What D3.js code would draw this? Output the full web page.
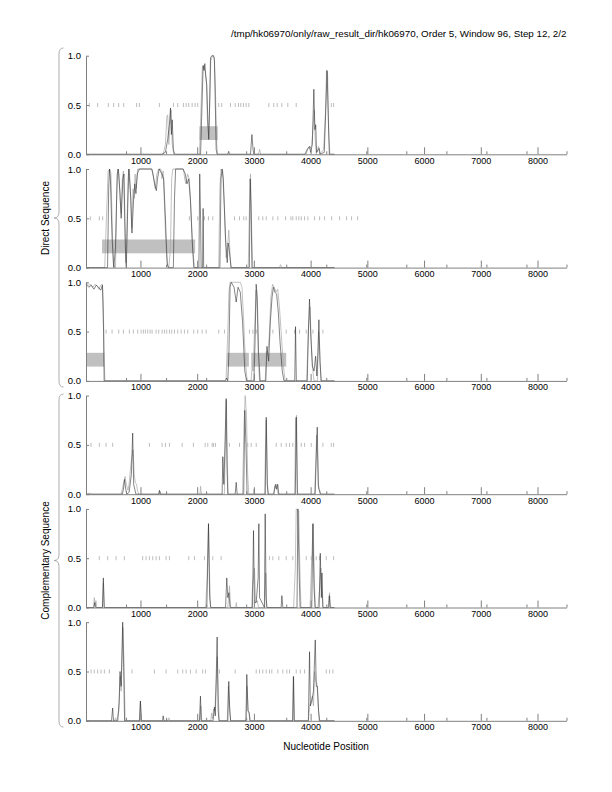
<!DOCTYPE html>
<html><head><meta charset="utf-8">
<script src="https://cdn.jsdelivr.net/npm/d3@7"></script>
<style>body{margin:0;background:#fff} text{font-family:"Liberation Sans",Arial,Helvetica,sans-serif}</style>
</head><body>
<script>
// ---------- DATA ----------
const titleText = "/tmp/hk06970/only/raw_result_dir/hk06970, Order 5, Window 96, Step 12, 2/2";
const xLabel = "Nucleotide Position";
const groupLabels = ["Direct Sequence", "Complementary Sequence"];
const xDomain = [40, 8511];
const xMajorTicks = [1000, 2000, 3000, 4000, 5000, 6000, 7000, 8000];
const xMinorTicks = [40, 746, 1452, 2158, 2864, 3570, 4276, 4981, 5687, 6393, 7099, 7805, 8511];
const yTickValues = [0, 0.5, 1];
const yTickLabels = ["0.0", "0.5", "1.0"];
const geneBand = [0.145, 0.285];

const panel1Black = [[40,0],[1380,0],[1440,0.02],[1480,0.15],[1510,0.3],[1530,0.47],[1545,0.2],[1560,0.35],[1580,0.05],[1600,0],[2060,0],[2090,0.6],[2105,0.9],[2120,0.85],[2135,0.92],[2150,0.8],[2170,0.7],[2190,0.3],[2205,0.15],[2220,0.5],[2235,0.98],[2260,1.0],[2290,1.0],[2305,0.95],[2320,0.5],[2335,0.05],[2350,0],[2540,0],[2555,0.03],[2570,0],[2940,0],[2965,0.2],[2985,0.05],[3000,0],[3900,0],[3940,0.05],[3980,0.08],[4000,0.02],[4030,0.1],[4057,0.66],[4075,0.25],[4090,0.3],[4105,0.02],[4150,0.06],[4170,0],[4240,0.02],[4270,0.5],[4290,0.85],[4310,0.4],[4330,0],[4420,0]];
const panel1Gray = [[40,0],[1400,0],[1440,0.1],[1465,0.38],[1480,0.4],[1500,0.1],[1520,0.3],[1540,0.45],[1560,0.1],[1590,0],[2040,0],[2070,0.5],[2090,0.88],[2110,0.9],[2140,0.85],[2160,0.75],[2180,0.35],[2200,0.2],[2215,0.4],[2240,0.95],[2270,1.0],[2300,0.98],[2320,0.7],[2345,0.1],[2360,0],[3080,0],[3100,0.05],[3120,0],[3920,0],[3960,0.07],[3990,0.06],[4020,0.1],[4045,0.3],[4065,0.45],[4080,0.15],[4100,0],[4140,0.08],[4160,0],[4230,0.05],[4260,0.4],[4280,0.85],[4300,0.8],[4320,0.2],[4340,0],[4420,0]];
const panel1Stops = [99,245,434,528,616,704,933,981,1334,1581,1657,1757,1805,1851,1911,1964,2010,2380,2433,2586,2670,2728,2769,2816,2864,2910,3263,3351,3411,3492,3598,3746,4364,4405];
const panel1Genes = [[2040,2363]];

const panel2Black = [[40,0],[420,0],[440,0.8],[455,1.0],[470,0.9],[500,0.3],[530,0],[560,0.2],[590,0.95],[610,1.0],[640,0.75],[660,0.5],[690,0.9],[710,0.95],[735,0.2],[750,0],[775,0.6],[795,1.0],[830,0.7],[850,0.35],[880,0.7],[900,0.85],[920,0.75],[945,0.95],[980,1.0],[1200,1.0],[1220,0.95],[1250,0.85],[1280,0.78],[1300,0.9],[1330,1.0],[1380,0.95],[1410,0.9],[1440,0.5],[1470,0.05],[1490,0],[1580,0],[1600,0.7],[1620,1.0],[1750,1.0],[1790,0.95],[1820,0.85],[1850,0.9],[1880,0.7],[1910,0.3],[1940,0],[2030,0],[2045,0.95],[2060,0.5],[2070,0],[2095,0],[2105,0.6],[2115,0],[2400,0],[2420,0.9],[2440,1.0],[2460,0.9],[2500,0.3],[2530,0.05],[2545,0.25],[2560,0.2],[2580,0.1],[2600,0],[2920,0],[2935,0.9],[2950,0.6],[2965,0],[4420,0]];
const panel2Gray = [[40,0],[370,0],[400,0.5],[430,0.98],[460,1.0],[480,0.95],[500,0.5],[520,0.05],[540,0],[560,0],[580,0.7],[600,1.0],[620,0.95],[640,0.7],[660,0.55],[680,0.9],[700,0.98],[720,0.5],[740,0.05],[760,0.3],[780,0.9],[800,1.0],[820,0.85],[845,0.4],[870,0.8],[890,0.7],[905,0.95],[925,0.8],[950,1.0],[1200,1.0],[1230,0.92],[1260,0.8],[1290,0.95],[1320,1.0],[1360,1.0],[1380,0.9],[1400,0.98],[1420,0.7],[1450,0.2],[1480,0.02],[1500,0],[1530,0.2],[1550,0.9],[1570,1.0],[1760,1.0],[1780,0.9],[1800,0.85],[1830,0.95],[1860,0.9],[1890,0.6],[1920,0.2],[1950,0.02],[1970,0],[2380,0],[2400,0.8],[2420,1.0],[2450,0.98],[2480,0.6],[2510,0.1],[2530,0.15],[2557,0.38],[2575,0.2],[2590,0],[2900,0],[2925,0.7],[2940,0.95],[2960,0.4],[2980,0],[3450,0],[3470,0.03],[3490,0],[4420,0]];
const panel2Stops = [116,275,334,1863,2010,2128,2199,2275,2658,2746,2822,2864,3086,3157,3217,3334,3422,3558,3652,3686,3746,3792,3835,3893,3951,4069,4158,4246,4370,4511,4634,4722,4828];
const panel2Genes = [[323,1964]];

const panel3Black = [[40,0.98],[90,0.95],[130,0.97],[180,0.93],[220,0.97],[260,0.95],[300,0.92],[330,0.97],[350,0.5],[360,0],[2500,0],[2520,0.03],[2540,0],[2560,0.3],[2580,0.95],[2600,1.0],[2650,0.95],[2688,0.8],[2720,0.95],[2760,0.9],[2800,0.6],[2840,0.1],[2870,0],[3000,0],[3020,0.4],[3040,0.98],[3060,0.85],[3080,0.3],[3110,0],[3210,0],[3230,0.35],[3260,0.2],[3290,0.6],[3320,0.85],[3345,0.95],[3370,0.9],[3400,0.88],[3430,0.7],[3460,0.4],[3500,0.1],[3530,0],[3720,0],[3734,0.55],[3748,0],[3940,0],[3965,0.6],[3981,0.83],[4000,0.5],[4030,0.15],[4060,0.1],[4088,0.25],[4110,0.05],[4130,0.3],[4146,0.62],[4165,0.2],[4188,0],[4420,0]];
const panel3Gray = [[40,1.0],[80,0.97],[120,0.98],[160,0.95],[200,0.98],[240,0.96],[270,0.93],[300,0.97],[330,0.98],[345,0.8],[360,0.2],[375,0],[2480,0],[2510,0.02],[2540,0.5],[2560,0.9],[2580,1.0],[2760,1.0],[2790,0.95],[2820,0.6],[2850,0.2],[2880,0],[2950,0],[2970,0.15],[2985,0.1],[3010,0.5],[3040,0.92],[3060,0.7],[3080,0.2],[3100,0],[3200,0],[3220,0.3],[3240,0.25],[3270,0.45],[3300,0.85],[3330,0.98],[3360,0.95],[3390,0.9],[3420,0.93],[3450,0.75],[3480,0.5],[3520,0.15],[3550,0],[3930,0],[3960,0.5],[3990,0.75],[4010,0.4],[4040,0.1],[4060,0],[4120,0],[4140,0.5],[4160,0.3],[4180,0],[4420,0]];
const panel3Stops = [394,500,616,699,805,875,951,1011,1052,1087,1128,1170,1205,1276,1322,1382,1422,1463,1511,1551,1599,1657,1717,1775,1834,1939,2010,2088,2158,2381,2481,2922,2981,3041,3334,3570,3716,3805,3923,4040,4216];
const panel3Genes = [[40,364],[2529,2911],[2953,3570]];

const panel4Black = [[40,0],[680,0],[700,0.05],[720,0.15],[740,0.05],[760,0],[800,0.02],[840,0.2],[863,0.62],[880,0.1],[900,0.05],[920,0],[1320,0],[1335,0.04],[1350,0],[2440,0],[2452,0.38],[2470,0.1],[2490,0.5],[2511,0.97],[2525,0.3],[2540,0],[2670,0],[2688,0.12],[2705,0],[2820,0],[2840,0.85],[2860,0.5],[2880,0],[3200,0],[3217,0.78],[3235,0.1],[3250,0],[3350,0],[3380,0.1],[3400,0.05],[3420,0.1],[3440,0],[3730,0],[3747,0.78],[3765,0],[4080,0],[4100,0.4],[4117,0.68],[4135,0.1],[4150,0.05],[4170,0],[4420,0]];
const panel4Gray = [[40,0],[100,0.01],[140,0],[660,0],[690,0.08],[729,0.18],[750,0.1],[780,0.04],[800,0.1],[830,0.3],[870,0.45],[890,0.2],[910,0.12],[930,0.1],[950,0.03],[970,0],[1330,0],[1345,0.03],[1360,0],[2050,0],[2060,0.08],[2075,0],[2480,0],[2500,0.6],[2515,0.95],[2530,0.4],[2545,0],[2800,0],[2825,0.7],[2846,1.0],[2870,0.8],[2890,0.2],[2910,0],[2990,0],[3000,0.05],[3015,0],[3190,0],[3205,0.5],[3220,0.75],[3240,0.1],[3255,0],[3350,0],[3365,0.08],[3385,0.06],[3405,0.1],[3425,0],[3720,0],[3735,0.75],[3752,0.8],[3770,0],[4070,0],[4090,0.3],[4105,0.6],[4125,0.35],[4140,0.05],[4160,0.04],[4180,0],[4420,0]];
const panel4Stops = [129,275,394,510,1158,1382,1440,1511,1735,1934,2141,2187,2264,2287,2322,2569,2746,2892,2952,3041,3393,3482,3570,3628,3686,3835,3893,4011,4216,4364,4405];
const panel4Genes = [];

const panel5Black = [[40,0],[180,0],[195,0.05],[210,0],[330,0],[346,0.3],[362,0],[2170,0],[2200,0.85],[2220,0.1],[2240,0],[2500,0],[2522,0.3],[2540,0.1],[2560,0.15],[2580,0],[2975,0],[2993,0.78],[3010,0.05],[3040,0.05],[3075,0.3],[3087,0.85],[3100,0.1],[3185,0],[3199,0.95],[3215,0.1],[3230,0],[3480,0],[3493,0.12],[3510,0],[3760,0],[3775,1.0],[3800,0.3],[3815,0],[4020,0],[4040,0.85],[4060,0.2],[4080,0],[4150,0],[4170,0.55],[4190,0.1],[4200,0.35],[4215,0],[4320,0],[4330,0.12],[4345,0],[4420,0]];
const panel5Gray = [[40,0],[170,0],[187,0.1],[200,0.02],[215,0.07],[230,0],[330,0],[346,0.25],[360,0],[2150,0],[2175,0.3],[2199,0.85],[2215,0.4],[2235,0],[2540,0],[2570,0.22],[2590,0],[2680,0],[2690,0.05],[2700,0],[2960,0],[2975,0.2],[3010,0.4],[3030,0.05],[3060,0.07],[3080,0],[3190,0],[3210,0.35],[3225,0],[3700,0],[3730,0.4],[3746,1.0],[3790,0.98],[3810,0.4],[3830,0],[3990,0],[4020,0.5],[4045,0.85],[4065,0.3],[4080,0],[4130,0],[4160,0.2],[4180,0.4],[4200,0.2],[4220,0],[4310,0],[4334,0.15],[4350,0],[4420,0]];
const panel5Stops = [275,422,570,716,1039,1099,1158,1216,1276,1334,1452,1511,1851,1952,2128,2275,2423,3275,3334,3439,3570,3686,3923,4011,4099,4158,4276,4405];
const panel5Genes = [];

const panel6Black = [[40,0],[490,0],[510,0.13],[525,0],[600,0],[625,0.2],[640,0.5],[660,0.35],[687,1.0],[705,0.5],[720,0],[985,0],[999,0.2],[1015,0],[1390,0],[1400,0.05],[1415,0],[2040,0],[2058,0.25],[2072,0],[2280,0],[2305,0.14],[2320,0.05],[2352,0.85],[2370,0.1],[2385,0],[2540,0],[2557,0.4],[2575,0.1],[2590,0],[2860,0],[2875,0.47],[2895,0.1],[2915,0.08],[2930,0],[3685,0],[3699,0.45],[3712,0],[3960,0],[3981,0.7],[3995,0.15],[4020,0.2],[4050,0.3],[4082,0.82],[4100,0.35],[4120,0.35],[4140,0.1],[4160,0],[4420,0]];
const panel6Gray = [[40,0],[540,0],[560,0.03],[580,0],[620,0.1],[640,0.45],[660,0.3],[690,0.95],[710,0.6],[730,0],[980,0],[999,0.2],[1020,0],[1480,0],[1500,0.03],[1520,0],[2050,0],[2065,0.15],[2080,0],[2240,0],[2255,0.08],[2270,0.02],[2290,0.12],[2310,0.1],[2330,0.3],[2355,0.65],[2375,0.2],[2390,0],[2530,0],[2550,0.35],[2570,0.15],[2590,0],[2860,0],[2880,0.35],[2900,0.1],[2920,0.08],[2935,0],[3680,0],[3695,0.45],[3710,0],[3960,0],[3985,0.15],[4010,0.2],[4030,0.25],[4050,0.15],[4070,0.5],[4090,0.4],[4110,0.38],[4130,0.2],[4150,0],[4420,0]];
const panel6Stops = [129,187,245,305,364,452,852,1246,1452,1657,1745,1805,1881,1982,2098,2146,2393,2670,3041,3099,3157,3217,3275,3316,3422,3510,3581,3628,3746,3817,3893,4276,4334,4393];
const panel6Genes = [];

// ---------- BUILD ----------
const panels = [
  {black: panel1Black, gray: panel1Gray, stops: panel1Stops, genes: panel1Genes},
  {black: panel2Black, gray: panel2Gray, stops: panel2Stops, genes: panel2Genes},
  {black: panel3Black, gray: panel3Gray, stops: panel3Stops, genes: panel3Genes},
  {black: panel4Black, gray: panel4Gray, stops: panel4Stops, genes: panel4Genes},
  {black: panel5Black, gray: panel5Gray, stops: panel5Stops, genes: panel5Genes},
  {black: panel6Black, gray: panel6Gray, stops: panel6Stops, genes: panel6Genes}
];

const W = 612, H = 792;
const FONT = '"Liberation Sans", Arial, Helvetica, sans-serif';
const AX = "#808080";
const svg = d3.select("body").append("svg").attr("width", W).attr("height", H);

const x = d3.scaleLinear().domain(xDomain).range([86, 566.5]);
const panelTop0 = 55.7, panelStep = 113.3, panelH = 98.6;

svg.append("text").attr("x", 566.5).attr("y", 37).attr("text-anchor", "end")
  .attr("font-size", 9.8).attr("font-family", FONT).text(titleText);

panels.forEach((p, i) => {
  const top = panelTop0 + i * panelStep, bottom = top + panelH;
  const y = d3.scaleLinear().domain([0, 1]).range([bottom, top]);
  const g = svg.append("g");

  g.selectAll("rect.gene").data(p.genes).join("rect").attr("class", "gene")
    .attr("x", d => x(d[0])).attr("width", d => x(d[1]) - x(d[0]))
    .attr("y", y(geneBand[1])).attr("height", y(geneBand[0]) - y(geneBand[1]))
    .attr("fill", "#c0c0c0");

  g.selectAll("line.stop").data(p.stops).join("line").attr("class", "stop")
    .attr("x1", d => x(d)).attr("x2", d => x(d))
    .attr("y1", y(0.5) - 2).attr("y2", y(0.5) + 2)
    .attr("stroke", "#a0a0a0").attr("stroke-width", 0.7);

  const line = d3.line().x(d => x(d[0])).y(d => y(d[1]));
  g.append("path").attr("d", line(p.gray)).attr("fill", "none")
    .attr("stroke", "#a8a8a8").attr("stroke-width", 0.7);
  g.append("path").attr("d", line(p.black)).attr("fill", "none")
    .attr("stroke", "#222").attr("stroke-width", 0.55);

  const xMinor = g.append("g").attr("transform", `translate(0,${bottom})`)
    .call(d3.axisBottom(x).tickValues(xMinorTicks).tickSize(-3).tickSizeOuter(0).tickFormat(""));
  xMinor.select(".domain").remove();
  xMinor.selectAll("line").attr("stroke", AX);

  const xAx = g.append("g").attr("transform", `translate(0,${bottom})`)
    .call(d3.axisBottom(x).tickValues(xMajorTicks).tickSize(-7).tickSizeOuter(0).tickPadding(3).tickFormat(d3.format("d")));
  xAx.selectAll("path,line").attr("stroke", AX);
  xAx.selectAll("text").attr("font-size", 9).attr("font-family", FONT).attr("fill", "#000");

  const yAx = g.append("g").attr("transform", `translate(86,0)`)
    .call(d3.axisLeft(y).tickValues(yTickValues).tickSize(-3).tickSizeOuter(0).tickPadding(5)
      .tickFormat((d, k) => yTickLabels[k]));
  yAx.selectAll("path,line").attr("stroke", AX);
  yAx.selectAll("text").attr("font-size", 9.5).attr("font-family", FONT).attr("fill", "#000");
});

function brace(y0, y1, ym) {
  const xr = 63.5, xv = 59, xt = 54, r = 6;
  const pth = d3.path();
  pth.moveTo(xr, y0);
  pth.quadraticCurveTo(xv, y0, xv, y0 + r);
  pth.lineTo(xv, ym - r);
  pth.quadraticCurveTo(xv, ym, xt, ym);
  pth.quadraticCurveTo(xv, ym, xv, ym + r);
  pth.lineTo(xv, y1 - r);
  pth.quadraticCurveTo(xv, y1, xr, y1);
  return pth.toString();
}
const braceSpans = [[48, 387, 218], [394, 727, 560.5]];
braceSpans.forEach((b, k) => {
  svg.append("path").attr("d", brace(b[0], b[1], b[2])).attr("fill", "none")
    .attr("stroke", "#999").attr("stroke-width", 0.8);
  svg.append("text").attr("transform", `translate(48.5,${b[2]}) rotate(-90)`)
    .attr("text-anchor", "middle").attr("font-size", 10).attr("font-family", FONT)
    .text(groupLabels[k]);
});

svg.append("text").attr("x", 326).attr("y", 749.5).attr("text-anchor", "middle")
  .attr("font-size", 10).attr("font-family", FONT).text(xLabel);
</script>
</body></html>
